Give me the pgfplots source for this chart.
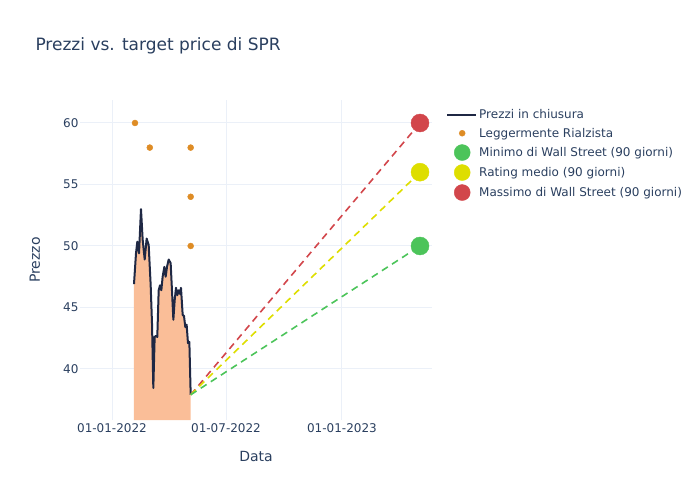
\documentclass[border=0pt]{standalone}
\usepackage{pgfplots}
\usepackage{pgfplotstable}
\pgfplotsset{compat=1.18}
\usepackage{fontspec}
\setmainfont{DejaVu Sans}
\definecolor{txt}{RGB}{42,63,95}
\definecolor{gridc}{RGB}{235,240,248}
\definecolor{fillc}{RGB}{250,190,152}
\definecolor{linec}{RGB}{31,40,68}
\definecolor{dotc}{RGB}{222,140,37}
\definecolor{greenc}{RGB}{76,196,90}
\definecolor{yellowc}{RGB}{222,222,0}
\definecolor{redc}{RGB}{210,70,75}
\pgfplotsset{
  lineleg/.style={legend image code/.code={\draw[##1] (-5pt,0pt) -- (24pt,0pt);}},
  smallleg/.style={legend image code/.code={\draw[##1] plot coordinates {(10pt,0pt)};}},
  bigleg/.style={legend image code/.code={\draw[##1, mark size=8pt] plot coordinates {(10pt,0pt)};}},
}
% x = days since 01-01-2022
\pgfplotstableread{
d p
34.9 46.9
38.1 49.4
40.2 50.35
42.9 49.4
46.0 53.0
48.7 50.5
51.9 48.9
55.0 50.6
58.2 50.1
61.4 46.8
63.5 43.7
65.6 38.45
67.7 42.6
69.8 42.7
71.9 42.6
74.1 46.4
76.2 46.8
78.3 46.4
80.4 47.5
83.1 48.3
85.2 47.5
87.3 48.3
90.0 48.9
93.1 48.6
95.2 46.4
97.4 44.0
99.5 45.6
101.6 46.6
103.7 46.0
105.8 46.4
107.9 46.1
109.5 46.6
112.2 44.4
114.3 44.3
116.4 43.4
118.5 43.6
120.6 42.1
122.8 42.2
124.9 37.9
}\prices
\pgfplotstableread{
d p
36.5 60
60.0 58
124.9 58
124.9 54
124.9 50
}\ratings
\begin{document}
\begin{tikzpicture}[x=1pt,y=1pt]
\path[use as bounding box] (0,0) rectangle (700,500);
\node[anchor=west, text=txt, font=\fontsize{17}{20}\selectfont] at (32,454) {Prezzi vs. target price di SPR};
\begin{axis}[at={(80pt,80pt)}, anchor=south west, width=352pt, height=320pt, scale only axis,
  xmin=-50.8, xmax=508, ymin=35.85, ymax=61.87,
  axis line style={draw=none}, tick style={draw=none},
  xtick={0,181,365}, xticklabels={01-01-2022,01-07-2022,01-01-2023},
  ytick={40,45,...,60},
  grid=major, major grid style={color=gridc, line width=1pt},
  ticklabel style={text=txt, font=\fontsize{12}{14}\selectfont},
  yticklabel style={xshift=2pt},
  /pgf/number format/assume math mode=true,
  xlabel={Data}, ylabel={Prezzo},
  label style={text=txt, font=\fontsize{14}{16}\selectfont},
  xlabel style={at={(axis description cs:0.5,-0.1156)}, anchor=center},
  ylabel style={at={(axis description cs:-0.128,0.5)}, anchor=center},
  clip mode=individual,
  legend cell align=left,
  legend style={at={(1.03125,0.984)}, anchor=north west, draw=none, fill=none,
    font=\fontsize{12}{14}\selectfont, text=txt, row sep=4pt},
]
\addplot[fill=fillc, draw=none, forget plot] table[x=d,y=p] {\prices} \closedcycle;
\addplot[color=linec, line width=2pt, line join=round, lineleg] table[x=d,y=p] {\prices};
\addlegendentry{Prezzi in chiusura}
\addplot[redc, line width=1.6pt, dash pattern=on 7pt off 5pt, forget plot] coordinates {(124.9,37.9) (489,60)};
\addplot[yellowc, line width=1.6pt, dash pattern=on 7pt off 5pt, forget plot] coordinates {(124.9,37.9) (489,56)};
\addplot[greenc, line width=1.6pt, dash pattern=on 7pt off 5pt, forget plot] coordinates {(124.9,37.9) (489,50)};
\addplot[only marks, mark=*, mark size=3pt, color=dotc, mark options={draw=dotc, fill=dotc}, smallleg] table[x=d,y=p] {\ratings};
\addlegendentry{Leggermente Rialzista}
\addplot[only marks, mark=*, mark size=9pt, color=greenc, mark options={draw=greenc, fill=greenc}, bigleg] coordinates {(489,50)};
\addlegendentry{Minimo di Wall Street (90 giorni)}
\addplot[only marks, mark=*, mark size=9pt, color=yellowc, mark options={draw=yellowc, fill=yellowc}, bigleg] coordinates {(489,56)};
\addlegendentry{Rating medio (90 giorni)}
\addplot[only marks, mark=*, mark size=9pt, color=redc, mark options={draw=redc, fill=redc}, bigleg] coordinates {(489,60)};
\addlegendentry{Massimo di Wall Street (90 giorni)}
\end{axis}
\end{tikzpicture}
\end{document}
